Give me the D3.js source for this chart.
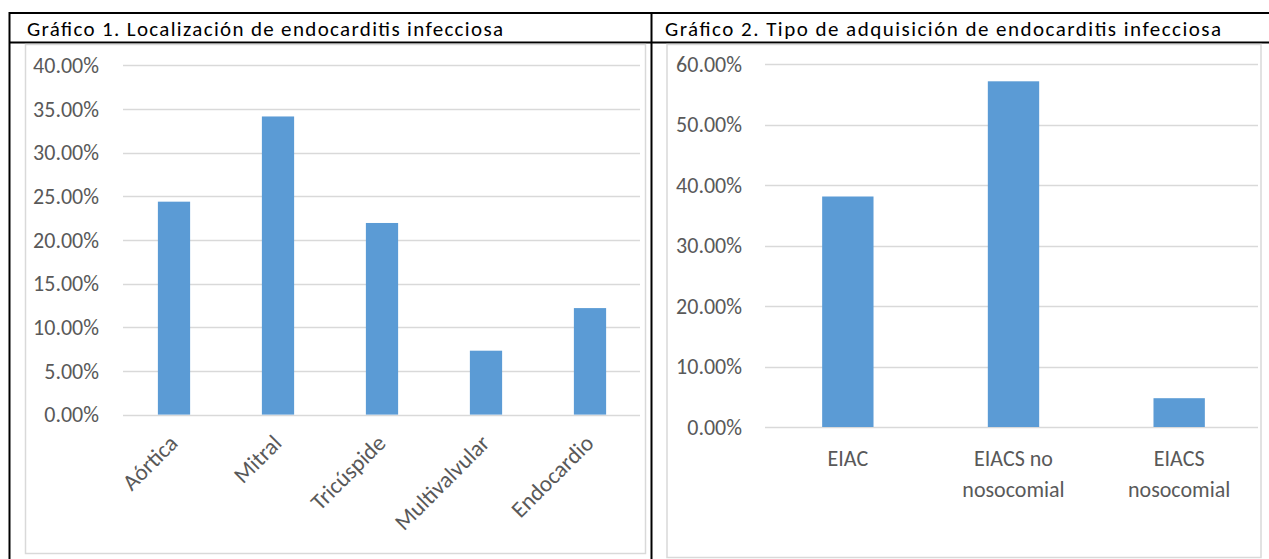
<!DOCTYPE html>
<html>
<head>
  <meta charset="utf-8">
  <title>Endocarditis infecciosa</title>
  <script src="https://cdn.jsdelivr.net/npm/d3@7"></script>
  <style>
    body { margin: 0; background: #fff; }
    svg text { font-family: Carlito, Lato, "Open Sans", sans-serif; }
  </style>
</head>
<body>
<svg id="page" width="1269" height="559"></svg>
<script>
// chart 1: localizacion
var locCategories = ['Aórtica', 'Mitral', 'Tricúspide', 'Multivalvular', 'Endocardio'];
var locValues = [0.2439, 0.3415, 0.2195, 0.0732, 0.1220];
var locTicks = [0, 0.05, 0.10, 0.15, 0.20, 0.25, 0.30, 0.35, 0.40];

// chart 2: tipo de adquisicion
var adqCategories = ['EIAC', 'EIACS no|nosocomial', 'EIACS|nosocomial'];
var adqValues = [0.381, 0.5714, 0.0476];
var adqTicks = [0, 0.10, 0.20, 0.30, 0.40, 0.50, 0.60];

var titles = ['Gráfico 1. Localización de endocarditis infecciosa',
              'Gráfico 2. Tipo de adquisición de endocarditis infecciosa'];

var barColor = '#5b9bd5',
    gridColor = '#d9d9d9',
    textColor = '#595959',
    pct = d3.format('.2%');

var svg = d3.select('#page');

// table borders
svg.append('line').attr('x1', 9).attr('x2', 1269).attr('y1', 13).attr('y2', 13)
    .attr('stroke', '#000').attr('stroke-width', 2);
svg.append('line').attr('x1', 9).attr('x2', 1269).attr('y1', 42.5).attr('y2', 42.5)
    .attr('stroke', '#000').attr('stroke-width', 2);
svg.append('line').attr('x1', 9.5).attr('x2', 9.5).attr('y1', 12).attr('y2', 559)
    .attr('stroke', '#000').attr('stroke-width', 2);
svg.append('line').attr('x1', 651.5).attr('x2', 651.5).attr('y1', 12).attr('y2', 559)
    .attr('stroke', '#000').attr('stroke-width', 2);

svg.append('text').attr('x', 27).attr('y', 36).attr('font-size', 21).attr('fill', '#000')
    .attr('textLength', 476).attr('lengthAdjust', 'spacing').text(titles[0]);
svg.append('text').attr('x', 665).attr('y', 36).attr('font-size', 21).attr('fill', '#000')
    .attr('textLength', 556).attr('lengthAdjust', 'spacing').text(titles[1]);

// chart frames
svg.append('rect').attr('x', 25.5).attr('y', 44.5).attr('width', 620).attr('height', 509)
    .attr('fill', '#fff').attr('stroke', gridColor).attr('stroke-width', 1.5);
svg.append('rect').attr('x', 667).attr('y', 44.5).attr('width', 594).attr('height', 513)
    .attr('fill', '#fff').attr('stroke', gridColor).attr('stroke-width', 1.5);

function drawChart(opt) {
    var g = svg.append('g');

    var x = d3.scaleBand()
        .domain(opt.categories)
        .range(opt.xRange)
        .paddingInner(0.69)
        .paddingOuter(0.345);

    var y = d3.scaleLinear()
        .domain([0, opt.max])
        .range(opt.yRange);

    // gridlines
    g.selectAll('.grid').data(opt.ticks).enter().append('line')
        .attr('x1', opt.gridX[0]).attr('x2', opt.gridX[1])
        .attr('y1', function(d) { return Math.round(y(d)) + 0.5; })
        .attr('y2', function(d) { return Math.round(y(d)) + 0.5; })
        .attr('stroke', gridColor).attr('stroke-width', 1.5);

    // y tick labels
    g.selectAll('.ylab').data(opt.ticks).enter().append('text')
        .attr('x', opt.labelX)
        .attr('y', function(d) { return y(d); })
        .attr('dy', '0.35em')
        .attr('text-anchor', 'end')
        .attr('font-size', opt.fontSize)
        .attr('fill', textColor)
        .text(pct);

    // bars
    g.selectAll('.bar').data(opt.values).enter().append('rect')
        .attr('x', function(d, i) { return x(opt.categories[i]); })
        .attr('width', x.bandwidth())
        .attr('y', function(d) { return y(d); })
        .attr('height', function(d) { return y(0) - y(d); })
        .attr('fill', barColor);

    // x labels
    if (opt.rotate) {
        g.selectAll('.xlab').data(opt.categories).enter().append('text')
            .attr('transform', function(d) {
                var cx = x(d) + x.bandwidth() / 2 + 5;
                return 'translate(' + cx + ',' + (y(0) + 30) + ') rotate(-45)';
            })
            .attr('text-anchor', 'end')
            .attr('font-size', 23)
            .attr('fill', textColor)
            .text(function(d) { return d; });
    } else {
        var xl = g.selectAll('.xlab').data(opt.categories).enter().append('text')
            .attr('text-anchor', 'middle')
            .attr('font-size', opt.fontSize)
            .attr('fill', textColor);
        xl.each(function(d) {
            var t = d3.select(this);
            d.split('|').forEach(function(line, k) {
                t.append('tspan')
                    .attr('x', x(d) + x.bandwidth() / 2)
                    .attr('y', y(0) + 39 + k * 31)
                    .text(line);
            });
        });
    }
}

drawChart({
    categories: locCategories,
    values: locValues,
    ticks: locTicks,
    max: 0.40,
    xRange: [122, 642],
    gridX: [123, 640],
    yRange: [414.6, 65.4],
    labelX: 99,
    fontSize: 22,
    rotate: true
});

drawChart({
    categories: adqCategories,
    values: adqValues,
    ticks: adqTicks,
    max: 0.60,
    xRange: [765, 1262],
    gridX: [765, 1258],
    yRange: [427, 64],
    labelX: 742,
    fontSize: 22,
    rotate: false
});
</script>
</body>
</html>
